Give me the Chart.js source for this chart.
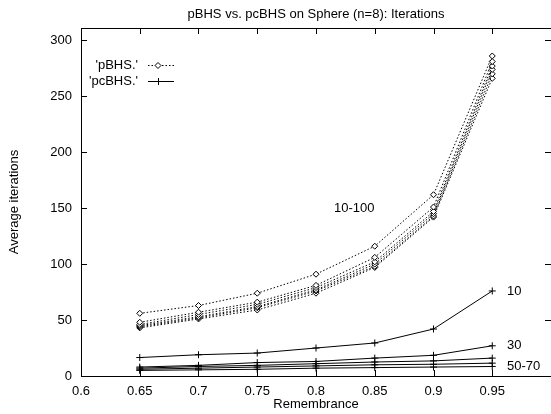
<!DOCTYPE html>
<html>
<head>
<meta charset="utf-8">
<script src="https://cdn.jsdelivr.net/npm/chart.js@4/dist/chart.umd.min.js"></script>
<style>
  html, body { margin: 0; padding: 0; background: #fff; overflow: hidden; }
  #wrap { width: 551px; height: 414px; overflow: hidden; }
</style>
</head>
<body>
<div id="wrap"><canvas id="canvas" width="556" height="414"></canvas></div>
<script>
// x values (remembrance) and axis ticks
var remembrance = [0.65, 0.7, 0.75, 0.8, 0.85, 0.9, 0.95];
var xTicks = [0.6, 0.65, 0.7, 0.75, 0.8, 0.85, 0.9, 0.95];
var yTicks = [0, 50, 100, 150, 200, 250, 300];

// pBHS runs (dotted, diamonds) - the "10-100" bundle
var pBHS1 = [56, 63, 74, 91, 116, 162, 286];
var pBHS2 = [48, 57, 66, 81, 106, 151, 281];
var pBHS3 = [46, 55, 64, 79, 102, 147, 277];
var pBHS4 = [45, 53, 62, 77, 100, 145, 274];
var pBHS5 = [44, 52, 61, 76, 98, 143, 270];
var pBHS6 = [43, 51, 59, 74, 97, 142, 266];

// pcBHS runs (solid, crosses)
var pcBHS10 = [16.5, 19, 20.5, 25, 29.5, 42, 76];
var pcBHS30 = [8, 9.5, 12, 13, 16, 18.5, 27];
var pcBHS50 = [7, 8.5, 9.5, 11, 12.5, 13.5, 16];
var pcBHS60 = [6, 7, 8, 9, 10, 10.5, 11.5];
var pcBHS70 = [5, 5.5, 6, 7, 7.5, 8, 8.5];

var curveLabels = [
  {text: '10-100', x: 334, y: 208},
  {text: '10', x: 507, y: 291},
  {text: '30', x: 507, y: 345},
  {text: '50-70', x: 507, y: 366}
];

var FONT = '"Liberation Sans", Arial, Helvetica, sans-serif';

function toPoints(vals) {
  return vals.map(function(v, i) { return {x: remembrance[i], y: v}; });
}

function pDataset(vals) {
  return {
    label: 'pBHS', data: toPoints(vals),
    borderColor: '#000', borderWidth: 1, borderDash: [1.5, 2],
    pointStyle: 'rectRot', pointRadius: 3, pointBorderWidth: 1,
    pointBorderColor: '#000', pointBackgroundColor: '#fff', fill: false, tension: 0
  };
}
function pcDataset(vals) {
  return {
    label: 'pcBHS', data: toPoints(vals),
    borderColor: '#000', borderWidth: 1,
    pointStyle: 'cross', pointRadius: 3.5, pointBorderWidth: 1,
    pointBorderColor: '#000', fill: false, tension: 0
  };
}

//frame, inward ticks, title, legend and curve labels like gnuplot does
var gnuplotDecor = {
  id: 'gnuplotDecor',
  afterDraw: function(chart) {
    var ctx = chart.ctx, a = chart.chartArea;
    var xs = chart.scales.x, ys = chart.scales.y;
    ctx.save();
    ctx.strokeStyle = '#000';
    ctx.lineWidth = 1;
    ctx.beginPath();
    ctx.rect(Math.round(a.left) + 0.5, Math.round(a.top) + 0.5, Math.round(a.right - a.left), Math.round(a.bottom - a.top));
    ctx.stroke();
    ctx.beginPath();
    xTicks.forEach(function(v) {
      var px = Math.round(xs.getPixelForValue(v)) + 0.5;
      ctx.moveTo(px, a.bottom); ctx.lineTo(px, a.bottom - 6);
      ctx.moveTo(px, a.top); ctx.lineTo(px, a.top + 6);
    });
    yTicks.forEach(function(v) {
      var py = Math.round(ys.getPixelForValue(v)) + 0.5;
      ctx.moveTo(a.left, py); ctx.lineTo(a.left + 6, py);
      ctx.moveTo(a.right, py); ctx.lineTo(a.right - 6, py);
    });
    ctx.stroke();

    ctx.fillStyle = '#000';
    ctx.font = '13px ' + FONT;
    ctx.textBaseline = 'middle';
    ctx.textAlign = 'center';
    ctx.fillText('pBHS vs. pcBHS on Sphere (n=8): Iterations', (a.left + a.right) / 2, 14);

    ctx.textAlign = 'left';
    curveLabels.forEach(function(l) { ctx.fillText(l.text, l.x, l.y); });

    // legend
    ctx.textAlign = 'right';
    ctx.fillText("'pBHS.'", 138, 65);
    ctx.fillText("'pcBHS.'", 138, 81);
    ctx.beginPath();
    ctx.setLineDash([1.5, 2]);
    ctx.moveTo(148, 65.5); ctx.lineTo(174, 65.5);
    ctx.stroke();
    ctx.setLineDash([]);
    ctx.beginPath();
    ctx.moveTo(148, 81.5); ctx.lineTo(174, 81.5);
    ctx.stroke();
    ctx.fillStyle = '#fff';
    ctx.beginPath();
    ctx.moveTo(158, 62.5); ctx.lineTo(161, 65.5); ctx.lineTo(158, 68.5); ctx.lineTo(155, 65.5); ctx.closePath();
    ctx.fill(); ctx.stroke();
    ctx.beginPath();
    ctx.moveTo(158.5, 78); ctx.lineTo(158.5, 85);
    ctx.stroke();
    ctx.restore();
  }
};

var datasets = [pBHS1, pBHS2, pBHS3, pBHS4, pBHS5, pBHS6].map(pDataset)
  .concat([pcBHS10, pcBHS30, pcBHS50, pcBHS60, pcBHS70].map(pcDataset));

var myChart = new Chart(document.getElementById('canvas').getContext('2d'), {
  type: 'line',
  data: {datasets: datasets},
  plugins: [gnuplotDecor],
  options: {
    responsive: false,
    animation: false,
    layout: {padding: {top: 28, right: 2, left: 0, bottom: 0}},
    plugins: {legend: {display: false}, title: {display: false}, tooltip: {enabled: false}},
    scales: {
      x: {
        type: 'linear', min: 0.6, max: 1.0,
        afterBuildTicks: function(s) { s.ticks = xTicks.map(function(v) { return {value: v}; }); },
        afterFit: function(s) { s.height = 38; },
        grid: {display: false, drawTicks: false},
        border: {display: false},
        ticks: {color: '#000', font: {family: FONT, size: 13}, padding: 8, maxRotation: 0, autoSkip: false,
          callback: function(v) { return String(+v.toFixed(2)); }},
        title: {display: true, text: 'Remembrance', color: '#000', font: {family: FONT, size: 13}, padding: {top: 0, bottom: 2}}
      },
      y: {
        type: 'linear', min: 0, max: 311,
        afterBuildTicks: function(s) { s.ticks = yTicks.map(function(v) { return {value: v}; }); },
        afterFit: function(s) { s.width = 81; },
        grid: {display: false, drawTicks: false},
        border: {display: false},
        ticks: {color: '#000', font: {family: FONT, size: 13}, padding: 9},
        title: {display: true, text: 'Average iterations', color: '#000', font: {family: FONT, size: 13}, padding: {top: 7, bottom: 0}}
      }
    }
  }
});
</script>
</body>
</html>
